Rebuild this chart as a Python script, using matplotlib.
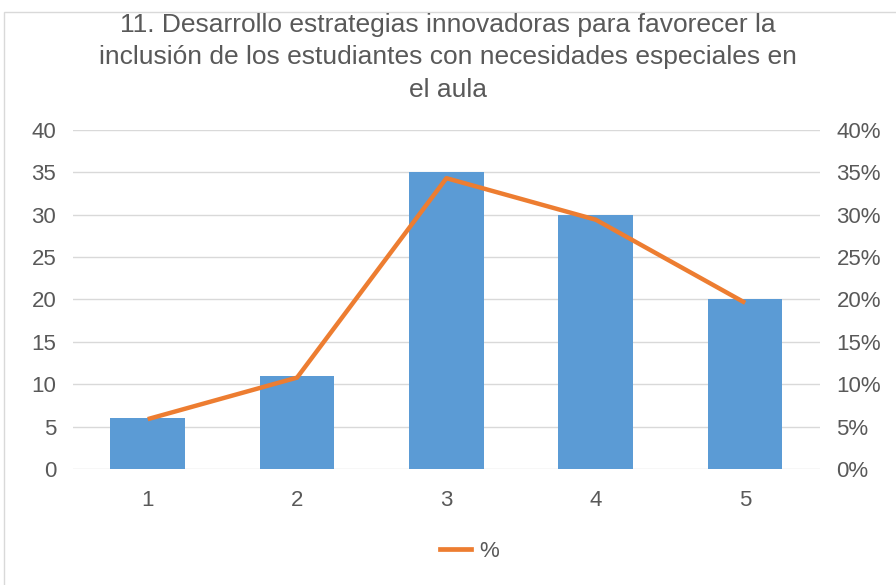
import matplotlib
matplotlib.use("Agg")
import matplotlib.pyplot as plt
from matplotlib.patches import Rectangle
from matplotlib.lines import Line2D
from matplotlib.ticker import PercentFormatter

categories = ["1", "2", "3", "4", "5"]
counts = [6, 11, 35, 30, 20]
total = sum(counts)
percents = [c / total for c in counts]

title = ("11. Desarrollo estrategias innovadoras para favorecer la\n"
         "inclusión de los estudiantes con necesidades especiales en\n"
         "el aula")

bar_color = "#5B9BD5"
line_color = "#ED7D31"
text_color = "#595959"
grid_color = "#D9D9D9"

plt.rcParams["font.family"] = ["Liberation Sans", "DejaVu Sans"]

fig = plt.figure(figsize=(8.96, 5.85), dpi=100)
ax = fig.add_axes([0.0815, 0.1983, 0.8335, 0.5795])
x = range(len(categories))

ax.bar(x, counts, width=0.5, color=bar_color, zorder=2)
ax.set_ylim(0, 40)
ax.set_yticks(range(0, 41, 5))
ax.set_xlim(-0.5, len(categories) - 0.5)
ax.set_xticks(list(x))
ax.set_xticklabels(categories)
ax.grid(axis="y", color=grid_color, linewidth=1, zorder=0)
for side in ax.spines.values():
    side.set_visible(False)
ax.tick_params(length=0, labelsize=16, colors=text_color, pad=12)
ax.tick_params(axis="x", pad=15)

ax2 = ax.twinx()
ax2.plot(x, percents, color=line_color, linewidth=3.2, solid_capstyle="butt", zorder=3)
ax2.set_ylim(0, 0.4)
ax2.set_yticks([i / 100 for i in range(0, 41, 5)])
ax2.yaxis.set_major_formatter(PercentFormatter(1.0, decimals=0))
for side in ax2.spines.values():
    side.set_visible(False)
ax2.tick_params(length=0, labelsize=16, colors=text_color, pad=12)

fig.text(0.5, 0.978, title, ha="center", va="top", fontsize=19,
         color=text_color, linespacing=1.45)

handle = Line2D([], [], color=line_color, linewidth=3.4)
fig.legend([handle], ["%"], loc="center", bbox_to_anchor=(0.524, 0.058),
           frameon=False, fontsize=16, labelcolor=text_color,
           handlelength=1.4, handletextpad=0.4)

fig.patches.append(Rectangle((4 / 896, -0.01), 2, 1 - 12 / 585 + 0.01,
                             transform=fig.transFigure, fill=False,
                             edgecolor="#D9D9D9", linewidth=1))

fig.savefig("out.png", dpi=100)
